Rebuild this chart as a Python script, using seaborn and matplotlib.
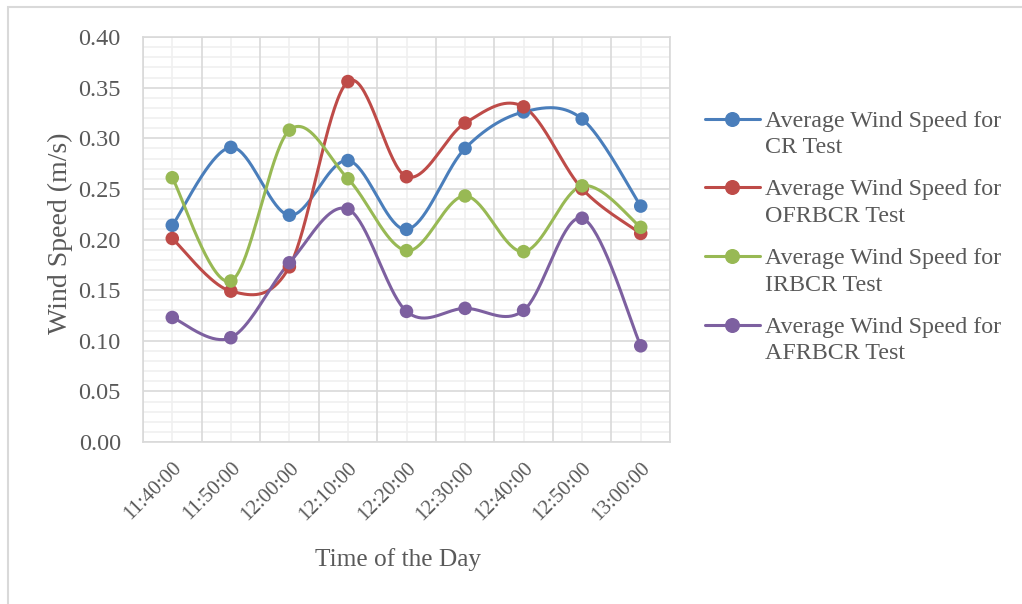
import numpy as np
import pandas as pd
import matplotlib
matplotlib.use("Agg")
import matplotlib.pyplot as plt
from matplotlib.lines import Line2D
from matplotlib.patches import Rectangle
from matplotlib.legend_handler import HandlerLine2D
from matplotlib.ticker import FixedLocator
from matplotlib.transforms import ScaledTranslation
import seaborn as sns

# ---- data ----
times = ["11:40:00", "11:50:00", "12:00:00", "12:10:00", "12:20:00",
         "12:30:00", "12:40:00", "12:50:00", "13:00:00"]
cr_speed = [0.214, 0.291, 0.224, 0.278, 0.210, 0.290, 0.326, 0.319, 0.233]
ofrbcr_speed = [0.201, 0.149, 0.173, 0.356, 0.262, 0.315, 0.331, 0.250, 0.206]
irbcr_speed = [0.261, 0.159, 0.308, 0.260, 0.189, 0.243, 0.188, 0.253, 0.212]
afrbcr_speed = [0.123, 0.103, 0.177, 0.230, 0.129, 0.132, 0.130, 0.221, 0.095]
series_names = ["Average Wind Speed for CR Test",
                "Average Wind Speed for OFRBCR Test",
                "Average Wind Speed for IRBCR Test",
                "Average Wind Speed for AFRBCR Test"]
legend_labels = ["Average Wind Speed for\nCR Test",
                 "Average Wind Speed for\nOFRBCR Test",
                 "Average Wind Speed for\nIRBCR Test",
                 "Average Wind Speed for\nAFRBCR Test"]
colors = ["#4A7EBB", "#BE4B48", "#98B954", "#7D60A0"]


def smooth_curve(yvals, n=40):
    """Catmull-Rom style Bezier smoothing through the points."""
    x = np.arange(len(yvals), dtype=float)
    y = np.asarray(yvals, dtype=float)
    pts = np.column_stack([x, y])
    ext = np.vstack([pts[0], pts, pts[-1]])
    out = []
    t = np.linspace(0, 1, n)[:, None]
    for i in range(len(pts) - 1):
        p0 = ext[i + 1]
        p3 = ext[i + 2]
        b1 = p0 + (ext[i + 2] - ext[i]) / 6.0
        b2 = p3 - (ext[i + 3] - ext[i + 1]) / 6.0
        seg = ((1 - t) ** 3) * p0 + 3 * ((1 - t) ** 2) * t * b1 \
            + 3 * (1 - t) * t ** 2 * b2 + t ** 3 * p3
        out.append(seg if i == 0 else seg[1:])
    seg = np.vstack(out)
    return seg[:, 0], seg[:, 1]


class RaisedLineHandler(HandlerLine2D):
    """Legend handle placed level with the first line of a two-line label."""

    def __init__(self, raise_by=0.0, **kw):
        super().__init__(**kw)
        self.raise_by = raise_by

    def create_artists(self, legend, orig_handle, xdescent, ydescent,
                       width, height, fontsize, trans):
        return super().create_artists(legend, orig_handle, xdescent,
                                      ydescent - self.raise_by, width, height,
                                      fontsize, trans)


all_series = [cr_speed, ofrbcr_speed, irbcr_speed, afrbcr_speed]

curve_frames = []
point_frames = []
for name, vals in zip(series_names, all_series):
    cx, cy = smooth_curve(vals)
    curve_frames.append(pd.DataFrame({"x": cx, "speed": cy, "series": name}))
    point_frames.append(pd.DataFrame({"x": np.arange(len(vals)), "speed": vals,
                                      "series": name}))
curves = pd.concat(curve_frames, ignore_index=True)
points = pd.concat(point_frames, ignore_index=True)

sns.set_style("white")
plt.rcParams["font.family"] = ["Liberation Serif", "DejaVu Serif"]
text_color = "#595959"

fig = plt.figure(figsize=(10.22, 6.04), dpi=100)
ax = fig.add_axes([143 / 1022, 1 - 442 / 604, (670 - 143) / 1022, (442 - 37) / 604])

palette = dict(zip(series_names, colors))
sns.lineplot(data=curves, x="x", y="speed", hue="series", palette=palette,
             sort=False, estimator=None, linewidth=2.2, legend=False, ax=ax,
             zorder=3)
sns.scatterplot(data=points, x="x", y="speed", hue="series", palette=palette,
                s=95, edgecolor="none", legend=False, ax=ax, zorder=4)

ax.set_xlim(-0.5, len(times) - 0.5)
ax.set_ylim(0, 0.40)

ax.xaxis.set_major_locator(FixedLocator(np.arange(len(times))))
ax.grid(False)
# vertical gridlines: category boundaries darker, category centres lighter
for b in np.arange(-0.5, len(times), 1.0):
    ax.axvline(b, color="#D9D9D9", lw=1.2, zorder=1)
for c in np.arange(len(times)):
    ax.axvline(c, color="#F0F0F0", lw=1.2, zorder=0.5)
# horizontal gridlines: 0.05 major, 0.01 minor
for v in np.arange(0, 0.4001, 0.01):
    major = abs(round(v / 0.05) * 0.05 - v) < 1e-9
    ax.axhline(v, color="#D9D9D9" if major else "#F0F0F0", lw=1.2,
               zorder=1 if major else 0.5)

ax.set_xticklabels(times, rotation=45, ha="right", va="top",
                   rotation_mode="anchor", fontsize=15, color=text_color)
shift = ScaledTranslation(-22 / 100, -3 / 100, fig.dpi_scale_trans)
for lab in ax.get_xticklabels():
    lab.set_transform(lab.get_transform() + shift)

yt = np.arange(0, 0.4001, 0.05)
ax.set_yticks(yt)
ax.set_yticklabels([f"{v:.2f}" for v in yt], fontsize=17.5, color=text_color)
ax.tick_params(axis="both", which="both", length=0)
ax.tick_params(axis="x", pad=12)
ax.tick_params(axis="y", pad=16)

for s in ax.spines.values():
    s.set_color("#D9D9D9")
    s.set_linewidth(1.2)

ax.set_xlabel("")
ax.set_ylabel("")
fig.text(60 / 1022, 1 - 233 / 604, "Wind Speed (m/s)", rotation=90,
         ha="center", va="center", fontsize=20, color=text_color)
fig.text(398 / 1022, 1 - 560 / 604, "Time of the Day",
         ha="center", va="center", fontsize=18.3, color=text_color)

handles = [Line2D([0], [0], color=c, lw=2.2, marker="o", markersize=9.8,
                  markerfacecolor=c, markeredgecolor=c) for c in colors]
leg = fig.legend(handles, legend_labels, loc="upper left",
                 bbox_to_anchor=(695 / 1022, 1 - 101 / 604), frameon=False,
                 fontsize=17.3, labelcolor=text_color, handlelength=2.3,
                 handletextpad=0.2, labelspacing=0.88, borderaxespad=0,
                 handler_map={Line2D: RaisedLineHandler(raise_by=22)})
for t in leg.get_texts():
    t.set_linespacing(1.35)

# chart-area frame
fig.patches.append(Rectangle((8 / 1022, -0.1), 1.2, 1 - 7 / 604 + 0.1,
                             transform=fig.transFigure, fill=False,
                             edgecolor="#D9D9D9", lw=1.5))

fig.savefig("out.png", dpi=100)
